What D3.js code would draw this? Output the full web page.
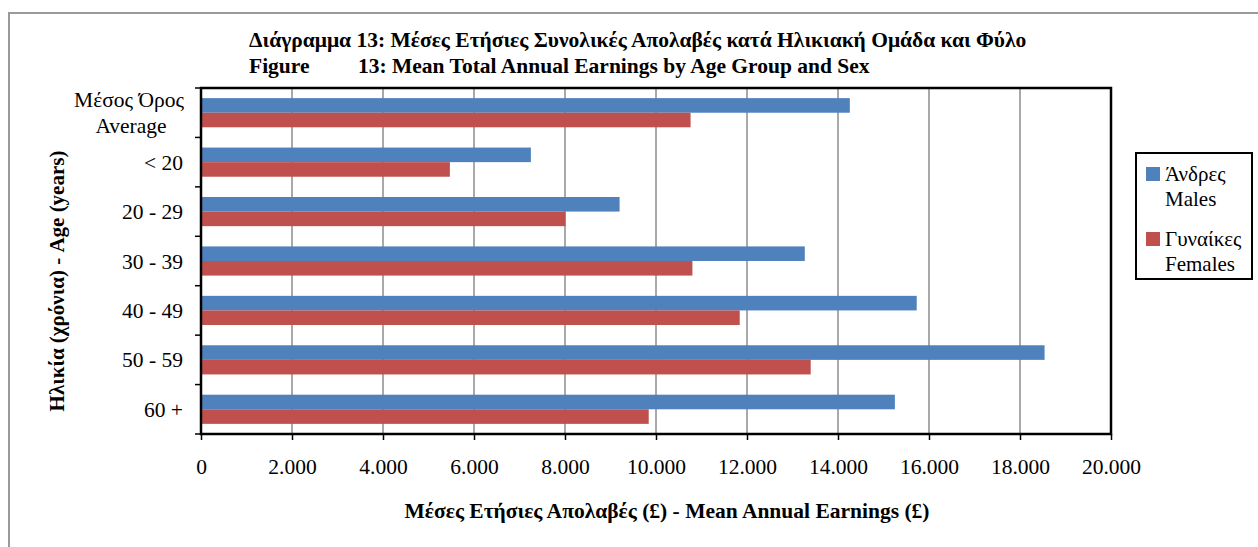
<!DOCTYPE html>
<html>
<head>
<meta charset="utf-8">
<script src="https://cdn.jsdelivr.net/npm/d3@7"></script>
<style>
  html, body { margin: 0; padding: 0; background: #fff; }
  svg { display: block; }
</style>
</head>
<body>
<svg id="chart" width="1258" height="547"></svg>
<script>
// ---- Data ----
const categories = ["Μέσος Όρος|Average", "< 20", "20 - 29", "30 - 39", "40 - 49", "50 - 59", "60 +"];
const seriesNames = ["Άνδρες|Males", "Γυναίκες|Females"];
const males   = [14260, 7250, 9200, 13270, 15730, 18540, 15250];
const females = [10760, 5470, 8010, 10800, 11840, 13400, 9840];
const xTicks  = [0, 2000, 4000, 6000, 8000, 10000, 12000, 14000, 16000, 18000, 20000];
const titleLine1 = "Διάγραμμα 13: Μέσες Ετήσιες Συνολικές Απολαβές κατά Ηλικιακή Ομάδα και Φύλο";
const titleLine2a = "Figure";
const titleLine2b = "13: Mean Total Annual Earnings by Age Group and Sex";
const xTitle = "Μέσες Ετήσιες Απολαβές (£) - Mean Annual Earnings (£)";
const yTitle = "Ηλικία (χρόνια) - Age (years)";
const colors = ["#4F81BD", "#C0504D"];

const FONT = '"Liberation Serif", "Times New Roman", serif';

// ---- Layout ----
const svg = d3.select("#chart");
const plot = { left: 201, top: 88, right: 1111, bottom: 434 };

// outer frame
svg.append("rect").attr("x", 9).attr("y", 13).attr("width", 1300).attr("height", 600)
  .attr("fill", "none").attr("stroke", "#9a9a9a").attr("stroke-width", 2);

const locale = d3.formatLocale({ decimal: ",", thousands: ".", grouping: [3], currency: ["£", ""] });
const fmt = locale.format(",");

const x = d3.scaleLinear().domain([0, 20000]).range([plot.left, plot.right]);
const y = d3.scaleBand().domain(categories).range([plot.top, plot.bottom])
  .paddingInner(0.41).paddingOuter(0.205);
const ySub = d3.scaleBand().domain([0, 1]).range([0, y.bandwidth()]);

// gridlines
svg.append("g").selectAll("line").data(xTicks.slice(1, -1)).join("line")
  .attr("x1", d => x(d)).attr("x2", d => x(d))
  .attr("y1", plot.top).attr("y2", plot.bottom)
  .attr("stroke", "#8c8c8c").attr("stroke-width", 1.5);

// bars
const rows = categories.map((c, i) => ({ cat: c, vals: [males[i], females[i]] }));
const g = svg.append("g");
rows.forEach(r => {
  r.vals.forEach((v, si) => {
    g.append("rect")
      .attr("x", x(0))
      .attr("y", y(r.cat) + ySub(si))
      .attr("width", x(v) - x(0))
      .attr("height", ySub.bandwidth())
      .attr("fill", colors[si]);
  });
});

// plot frame
svg.append("rect").attr("x", plot.left).attr("y", plot.top)
  .attr("width", plot.right - plot.left).attr("height", plot.bottom - plot.top)
  .attr("fill", "none").attr("stroke", "#000").attr("stroke-width", 2.5);

// x axis
const xAxis = d3.axisBottom(x).tickValues(xTicks).tickFormat(fmt).tickSize(6).tickPadding(19);
const xg = svg.append("g").attr("transform", `translate(0,${plot.bottom})`).call(xAxis);
xg.select(".domain").remove();
xg.selectAll(".tick line").attr("stroke", "#000").attr("stroke-width", 1.5);
xg.selectAll(".tick text").style("font-family", FONT).style("font-size", "21.5px").attr("fill", "#000");

// y axis ticks at band boundaries
const bounds = categories.map(c => y(c) - y.step() * y.paddingInner() / 2);
bounds.push(plot.bottom);
svg.append("g").selectAll("line").data(bounds).join("line")
  .attr("x1", plot.left - 6).attr("x2", plot.left)
  .attr("y1", d => d).attr("y2", d => d)
  .attr("stroke", "#000").attr("stroke-width", 1.5);

// y labels
const yl = svg.append("g");
categories.forEach(c => {
  const parts = c.split("|");
  const cy = y(c) + y.bandwidth() / 2;
  if (parts.length === 1) {
    yl.append("text").attr("x", 183).attr("y", cy).attr("dy", "0.35em")
      .attr("text-anchor", "end").text(parts[0]);
  } else {
    yl.append("text").attr("x", 129).attr("y", cy - 13).attr("dy", "0.35em")
      .attr("text-anchor", "middle").text(parts[0]);
    yl.append("text").attr("x", 131).attr("y", cy + 13).attr("dy", "0.35em")
      .attr("text-anchor", "middle").text(parts[1]);
  }
});
yl.selectAll("text").style("font-family", FONT).style("font-size", "21.5px").attr("fill", "#000");

// titles
const tg = svg.append("g");
tg.append("text").attr("x", 249).attr("y", 47).text(titleLine1);
tg.append("text").attr("x", 249).attr("y", 73).text(titleLine2a);
tg.append("text").attr("x", 358).attr("y", 73).text(titleLine2b);
tg.selectAll("text").style("font-family", FONT).style("font-weight", "bold").style("font-size", "21.5px").attr("fill", "#000");

svg.append("text").attr("x", 667).attr("y", 518).attr("text-anchor", "middle")
  .style("font-family", FONT).style("font-weight", "bold").style("font-size", "21.5px").text(xTitle);

svg.append("text").attr("transform", "translate(57,281) rotate(-90)")
  .attr("text-anchor", "middle").attr("dy", "0.35em")
  .style("font-family", FONT).style("font-weight", "bold").style("font-size", "21px").text(yTitle);

// legend
const lg = svg.append("g");
lg.append("rect").attr("x", 1136).attr("y", 153).attr("width", 116).attr("height", 126)
  .attr("fill", "#fff").attr("stroke", "#000").attr("stroke-width", 2);
seriesNames.forEach((s, i) => {
  const parts = s.split("|");
  const top = 167 + i * 65;
  lg.append("rect").attr("x", 1146).attr("y", top).attr("width", 14).attr("height", 14)
    .attr("fill", colors[i]);
  lg.append("text").attr("x", 1165).attr("y", top + 14).text(parts[0]);
  lg.append("text").attr("x", 1165).attr("y", top + 39).text(parts[1]);
});
lg.selectAll("text").style("font-family", FONT).style("font-size", "21px").attr("fill", "#000");
</script>
</body>
</html>
